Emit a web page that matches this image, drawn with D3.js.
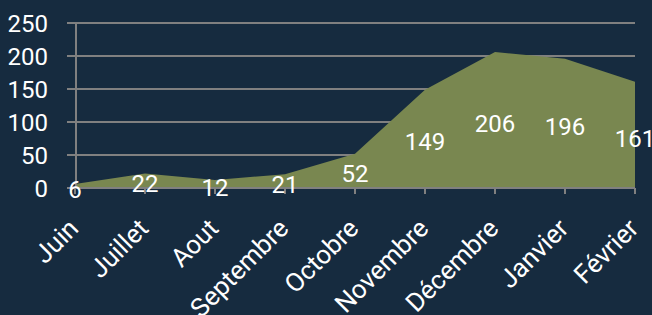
<!DOCTYPE html>
<html><head><meta charset="utf-8">
<script src="https://cdn.jsdelivr.net/npm/d3@7"></script>
<style>
html,body{margin:0;padding:0;background:#162b3f;}
svg{display:block;}
text{font-family:Roboto,"Noto Sans",sans-serif;fill:#ffffff;}
</style></head>
<body><svg id="c" width="652" height="315"></svg>
<script>
const categories = ["Juin","Juillet","Aout","Septembre","Octobre","Novembre","Décembre","Janvier","Février"];
const values = [6,22,12,21,52,149,206,196,161];
const yTicks = [0,50,100,150,200,250];

const W = 652, H = 315;
const m = {left:75, right:17, top:23, bottom:127};
const svg = d3.select("#c");
svg.append("rect").attr("width",W).attr("height",H).attr("fill","#162b3f");

const x = d3.scalePoint().domain(categories).range([m.left, W - m.right]);
const y = d3.scaleLinear().domain([0,250]).range([H - m.bottom, m.top]);
const grid = "#808080";

// gridlines
svg.append("g").selectAll("line").data(yTicks).join("line")
  .attr("x1", m.left - 8).attr("x2", W - m.right)
  .attr("y1", d => y(d)).attr("y2", d => y(d))
  .attr("stroke", grid).attr("stroke-width", 2);

// area
const area = d3.area().x((d,i) => x(categories[i])).y0(y(0)).y1(d => y(d));
svg.append("path").datum(values).attr("d", area).attr("fill", "#798750");

// y axis line
svg.append("line").attr("x1", m.left+1).attr("x2", m.left+1)
  .attr("y1", y(250)).attr("y2", y(0)).attr("stroke", grid).attr("stroke-width", 2);
// x axis baseline
svg.append("line").attr("x1", m.left - 8).attr("x2", W - m.right)
  .attr("y1", y(0)).attr("y2", y(0)).attr("stroke", grid).attr("stroke-width", 2);
// x ticks
svg.append("g").selectAll("line").data(categories).join("line")
  .attr("x1", d => x(d)).attr("x2", d => x(d))
  .attr("y1", y(0)).attr("y2", y(0) + 6)
  .attr("stroke", grid).attr("stroke-width", 2);

// y labels
svg.append("g").selectAll("text").data(yTicks).join("text")
  .attr("x", 48).attr("y", d => y(d)).attr("dy", "0.36em")
  .attr("text-anchor", "end").attr("font-size", 24).text(d => d);

// x labels
svg.append("g").selectAll("text").data(categories).join("text")
  .attr("transform", d => `translate(${x(d)+5},${y(0)+42}) rotate(-45)`)
  .attr("text-anchor", "end")
  .attr("font-size", 26).text(d => d);

// data labels
svg.append("g").selectAll("text").data(values).join("text")
  .attr("x", (d,i) => x(categories[i]))
  .attr("y", d => (y(d) + y(0)) / 2 + 3)
  .attr("dy", "0.36em")
  .attr("text-anchor", "middle").attr("font-size", 24).text(d => d);
</script></body></html>
